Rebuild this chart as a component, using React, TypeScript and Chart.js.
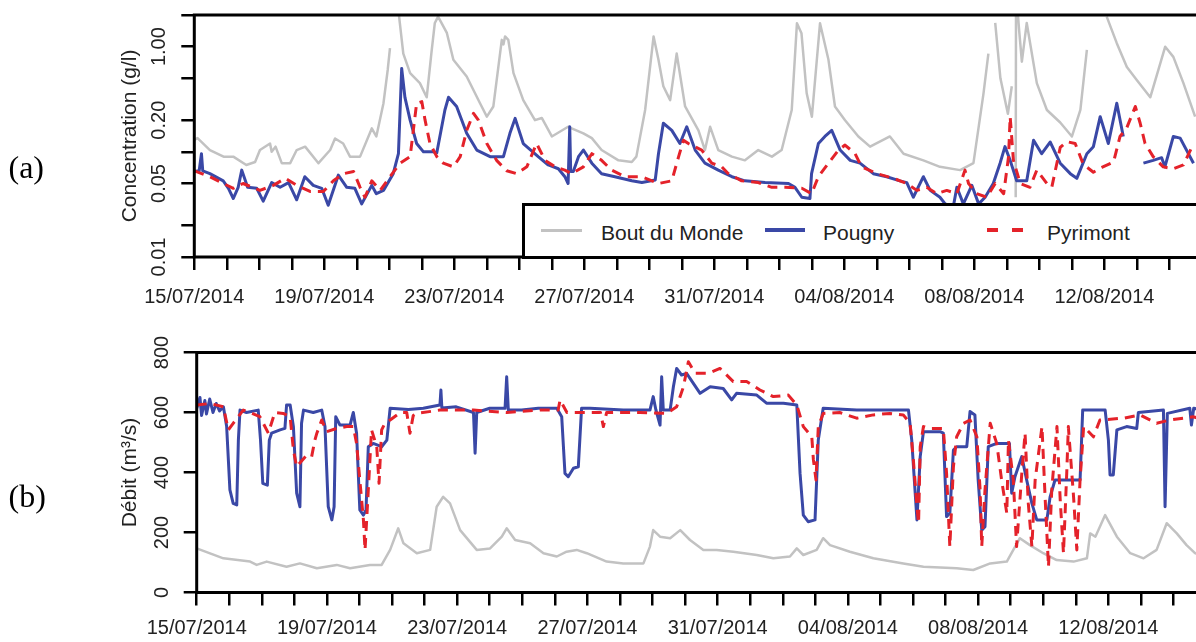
import React, { useEffect, useRef } from 'react';
import { Chart, registerables } from 'chart.js';

Chart.register(...registerables);

// ---------- Axis / tick data (days since 15/07/2014 00:00) ----------
const xTickDays: number[] = Array.from({ length: 33 }, (_, i) => i);
const xLabelDays = [0, 4, 8, 12, 16, 20, 24, 28];
const xLabelTexts = ['15/07/2014', '19/07/2014', '23/07/2014', '27/07/2014', '31/07/2014', '04/08/2014', '08/08/2014', '12/08/2014'];

const yTicksA = [0.01, 0.02, 0.05, 0.1, 0.2, 0.5, 1, 2];
const yLabelsA = ['0.01', '', '0.05', '', '0.20', '', '1.00', ''];
const yTicksB = [0, 200, 400, 600, 800];
const yLabelsB = ['0', '200', '400', '600', '800'];

const seriesNames = ['Bout du Monde', 'Pougny', 'Pyrimont'];

// ---------- Panel (a): concentration (g/l), [day, value] ----------
const concBoutDuMonde: [number, number | null][] = [
  [0, 0.13], [0.1, 0.135], [0.48, 0.104], [0.9, 0.09], [1.2, 0.09], [1.6, 0.075], [1.87, 0.08], [2.02, 0.104],
  [2.33, 0.12], [2.38, 0.1], [2.5, 0.112], [2.69, 0.078], [2.95, 0.078], [3.15, 0.104], [3.41, 0.112], [3.82, 0.078],
  [4.18, 0.104], [4.33, 0.134], [4.58, 0.12], [4.79, 0.09], [5.1, 0.09], [5.46, 0.167], [5.6, 0.14], [5.82, 0.29],
  [5.95, 0.6], [6.02, 0.97], [6.15, null], [6.28, 2.2], [6.43, 0.86], [6.64, 0.56], [6.94, 0.45], [7.15, 0.33],
  [7.3, 0.9], [7.4, 1.68], [7.5, 1.93], [7.77, 1.35], [7.97, 0.75], [8.38, 0.52], [8.79, 0.29], [9.0, 0.216],
  [9.2, 0.27], [9.46, 1.16], [9.51, 1.05], [9.56, 1.25], [9.66, 1.16], [9.82, 0.56], [10.12, 0.31], [10.48, 0.2],
  [10.69, 0.21], [11.0, 0.14], [11.5, 0.173], [11.97, 0.15], [12.23, 0.135], [12.53, 0.104], [13.05, 0.083],
  [13.46, 0.08], [13.6, 0.09], [13.87, 0.25], [14.13, 1.25], [14.28, 0.75], [14.43, 0.42], [14.64, 0.31],
  [14.84, 0.86], [15.1, 0.27], [15.51, 0.16], [15.71, 0.104], [15.87, 0.173], [16.12, 0.104], [16.54, 0.09],
  [16.94, 0.083], [17.35, 0.104], [17.77, 0.09], [18.07, 0.104], [18.38, 0.25], [18.54, 1.67], [18.68, 1.34],
  [18.84, 0.36], [19.0, 0.216], [19.25, 1.67], [19.51, 0.75], [19.71, 0.27], [20.02, 0.2], [20.43, 0.14],
  [20.79, 0.112], [21.4, 0.14], [21.82, 0.096], [22.43, 0.083], [22.94, 0.072], [23.56, 0.067], [23.97, 0.078],
  [24.28, 0.36], [24.43, 0.86], [24.52, null], [24.64, 1.68], [24.8, 0.5], [25.03, 0.23], [25.15, 0.42],
  [25.2, null], [25.27, 0.037], [25.28, 3.0], [25.33, 2.2], [25.37, 1.5], [25.46, 0.72], [25.61, 1.68],
  [25.92, 0.45], [26.23, 0.25], [26.64, 0.19], [27.0, 0.14], [27.26, 0.25], [27.46, 0.93], [27.6, null],
  [28.07, 1.93], [28.38, 1.08], [28.69, 0.64], [29.0, 0.48], [29.41, 0.33], [29.87, 1.0], [30.12, 0.8],
  [30.43, 0.45], [30.79, 0.216],
];

const concPougny: [number, number | null][] = [
  [0, 0.065], [0.15, 0.066], [0.22, 0.096], [0.26, 0.066], [0.48, 0.062], [0.89, 0.053], [1.05, 0.045], [1.2, 0.036],
  [1.35, 0.046], [1.46, 0.067], [1.64, 0.046], [1.92, 0.045], [2.12, 0.034], [2.38, 0.051], [2.64, 0.046],
  [2.9, 0.051], [3.15, 0.035], [3.4, 0.058], [3.66, 0.048], [3.92, 0.045], [4.12, 0.031], [4.43, 0.06],
  [4.69, 0.046], [4.94, 0.045], [5.15, 0.032], [5.46, 0.048], [5.6, 0.04], [5.82, 0.043], [6.12, 0.062],
  [6.28, 0.096], [6.38, 0.62], [6.48, 0.33], [6.64, 0.2], [6.84, 0.12], [7.05, 0.1], [7.35, 0.1], [7.46, 0.098],
  [7.71, 0.25], [7.82, 0.33], [8.07, 0.27], [8.38, 0.15], [8.69, 0.104], [9.1, 0.09], [9.51, 0.09], [9.71, 0.15],
  [9.87, 0.208], [10.12, 0.12], [10.58, 0.09], [10.89, 0.075], [11.2, 0.069], [11.4, 0.058], [11.5, 0.05],
  [11.55, 0.173], [11.58, 0.065], [11.66, 0.065], [11.82, 0.09], [11.97, 0.104], [12.23, 0.078], [12.53, 0.062],
  [12.94, 0.058], [13.46, 0.053], [13.77, 0.051], [14.18, 0.054], [14.28, 0.096], [14.43, 0.187], [14.69, 0.16],
  [14.94, 0.12], [15.15, 0.173], [15.41, 0.104], [15.71, 0.078], [16.12, 0.067], [16.54, 0.058], [16.94, 0.053],
  [17.56, 0.051], [18.28, 0.05], [18.48, 0.046], [18.69, 0.037], [18.94, 0.036], [18.99, 0.062], [19.2, 0.12],
  [19.4, 0.14], [19.61, 0.16], [19.87, 0.104], [20.18, 0.083], [20.48, 0.078], [20.89, 0.062], [21.3, 0.058],
  [21.71, 0.053], [21.92, 0.051], [22.12, 0.037], [22.43, 0.058], [22.64, 0.043], [22.94, 0.037], [23.1, 0.032],
  [23.35, 0.03], [23.46, 0.046], [23.66, 0.032], [23.92, 0.048], [24.13, 0.032], [24.33, 0.037], [24.58, 0.05],
  [24.79, 0.078], [24.94, 0.112], [25.1, 0.083], [25.3, 0.053], [25.61, 0.053], [25.82, 0.129], [26.07, 0.096],
  [26.33, 0.124], [26.64, 0.078], [26.95, 0.062], [27.15, 0.056], [27.46, 0.096], [27.66, 0.112], [27.87, 0.216],
  [28.12, 0.12], [28.38, 0.29], [28.58, 0.14], [28.7, null], [29.2, 0.078], [29.5, 0.083], [29.76, 0.088],
  [29.86, 0.072], [30.12, 0.14], [30.33, 0.135], [30.74, 0.078],
];

const concPyrimont: [number, number | null][] = [
  [0, 0.066], [0.48, 0.058], [0.89, 0.05], [1.2, 0.045], [1.5, 0.05], [2.02, 0.043], [2.43, 0.048], [2.8, 0.056],
  [3.15, 0.048], [3.56, 0.042], [3.97, 0.042], [4.28, 0.053], [4.59, 0.062], [4.9, 0.065], [5.1, 0.046],
  [5.25, 0.037], [5.46, 0.053], [5.72, 0.043], [6.02, 0.058], [6.33, 0.078], [6.64, 0.09], [6.84, 0.29], [7.0, 0.3],
  [7.1, 0.2], [7.25, 0.12], [7.46, 0.09], [7.66, 0.078], [7.97, 0.072], [8.18, 0.09], [8.38, 0.16], [8.59, 0.232],
  [8.74, 0.2], [9.0, 0.12], [9.3, 0.083], [9.61, 0.066], [9.92, 0.062], [10.23, 0.072], [10.53, 0.12],
  [10.79, 0.083], [11.1, 0.072], [11.4, 0.067], [11.61, 0.062], [11.97, 0.072], [12.23, 0.096], [12.53, 0.083],
  [12.84, 0.067], [13.25, 0.058], [13.77, 0.058], [14.28, 0.05], [14.69, 0.053], [14.9, 0.09], [15.05, 0.129],
  [15.2, 0.12], [15.61, 0.104], [15.92, 0.078], [16.23, 0.072], [16.43, 0.062], [16.84, 0.053], [17.35, 0.051],
  [17.77, 0.046], [18.18, 0.046], [18.69, 0.045], [18.99, 0.04], [19.2, 0.058], [19.51, 0.078], [19.82, 0.104],
  [20.02, 0.116], [20.33, 0.096], [20.53, 0.072], [21.0, 0.062], [21.51, 0.056], [21.92, 0.05], [22.23, 0.043],
  [22.53, 0.046], [22.84, 0.04], [23.15, 0.043], [23.46, 0.04], [23.71, 0.067], [23.82, 0.05], [24.07, 0.04],
  [24.38, 0.037], [24.64, 0.05], [24.9, 0.04], [25.05, 0.09], [25.1, 0.216], [25.2, 0.083], [25.41, 0.05],
  [25.71, 0.046], [25.92, 0.067], [26.23, 0.05], [26.38, 0.046], [26.64, 0.11], [26.84, 0.125], [27.1, 0.12],
  [27.35, 0.076], [27.66, 0.064], [27.92, 0.071], [28.28, 0.08], [28.48, 0.14], [28.69, 0.17], [28.95, 0.27],
  [29.1, 0.187], [29.25, 0.12], [29.5, 0.09], [29.81, 0.072], [30.12, 0.069], [30.43, 0.075], [30.74, 0.12],
];

// ---------- Panel (b): discharge (m3/s), [day, value] ----------
const flowBoutDuMonde: [number, number | null][] = [
  [0, 147], [0.82, 114], [1.64, 103], [1.84, 92], [2.15, 103], [2.76, 86], [3.17, 97], [3.69, 81], [4.3, 92],
  [4.71, 81], [5.32, 92], [5.68, 92], [5.94, 142], [6.19, 214], [6.35, 164], [6.76, 131], [7.17, 142], [7.37, 286],
  [7.57, 319], [7.78, 297], [8.09, 208], [8.6, 142], [9.01, 147], [9.37, 186], [9.52, 214], [9.78, 175],
  [10.24, 164], [10.65, 131], [11.06, 120], [11.36, 136], [11.67, 142], [11.98, 131], [12.59, 103], [13.1, 97],
  [13.72, 97], [13.92, 153], [14.02, 208], [14.23, 186], [14.54, 181], [14.85, 208], [15.15, 175], [15.56, 142],
  [15.97, 142], [16.48, 136], [17.2, 125], [17.71, 114], [18.22, 120], [18.43, 147], [18.63, 125], [19.04, 142],
  [19.24, 181], [19.45, 158], [20.06, 136], [20.78, 114], [21.7, 97], [22.32, 86], [23.34, 81], [23.85, 75],
  [24.37, 97], [24.88, 103], [25.28, 181], [25.59, 158], [26.0, 131], [26.41, 108], [26.93, 103], [27.34, 114],
  [27.44, 197], [27.6, 186], [27.9, 258], [28.26, 186], [28.67, 131], [29.08, 114], [29.48, 142], [29.79, 231],
  [30.1, 197], [30.4, 158], [30.66, 131], [30.8, 125],
];

const flowPougny: [number, number | null][] = [
  [0, 614], [0.1, 650], [0.15, 590], [0.25, 640], [0.3, 595], [0.4, 645], [0.5, 600], [0.6, 630], [0.7, 605],
  [0.82, 619], [0.92, 553], [1.02, 342], [1.12, 297], [1.23, 292], [1.28, 508], [1.33, 608], [1.53, 600],
  [1.89, 608], [1.96, 508], [2.03, 364], [2.17, 358], [2.23, 508], [2.3, 531], [2.56, 542], [2.71, 547],
  [2.76, 625], [2.87, 625], [2.97, 553], [3.07, 331], [3.17, 286], [3.22, 564], [3.28, 608], [3.58, 600],
  [3.84, 608], [3.94, 553], [4.04, 286], [4.15, 242], [4.22, 286], [4.27, 586], [4.4, 558], [4.71, 558],
  [4.81, 600], [4.91, 531], [5.01, 275], [5.12, 258], [5.2, 275], [5.27, 486], [5.42, 497], [5.68, 486],
  [5.84, 508], [5.94, 614], [6.5, 610], [6.96, 614], [7.47, 625], [7.5, 675], [7.53, 615], [7.97, 619],
  [8.5, 600], [8.55, 464], [8.6, 600], [9.0, 614], [9.47, 614], [9.52, 719], [9.57, 608], [9.98, 608],
  [10.49, 614], [11.06, 614], [11.21, 586], [11.31, 397], [11.41, 386], [11.57, 414], [11.72, 419], [11.82, 614],
  [12.08, 614], [13.1, 608], [13.92, 608], [14.02, 653], [14.1, 610], [14.23, 558], [14.28, 719], [14.33, 608],
  [14.54, 608], [14.64, 686], [14.74, 747], [14.89, 725], [15.05, 730], [15.15, 714], [15.46, 664], [15.77, 686],
  [16.17, 680], [16.43, 642], [16.58, 664], [17.2, 658], [17.5, 631], [18.02, 631], [18.43, 625], [18.53, 397],
  [18.63, 258], [18.78, 236], [18.99, 242], [19.09, 508], [19.24, 614], [20.27, 608], [21.29, 608], [21.86, 608],
  [21.96, 508], [22.12, 242], [22.22, 453], [22.32, 536], [22.83, 536], [22.93, 531], [23.03, 253], [23.13, 264],
  [23.24, 475], [23.34, 486], [23.65, 486], [23.75, 603], [23.9, 592], [24.0, 375], [24.11, 208], [24.21, 219],
  [24.31, 486], [24.57, 497], [24.96, 497], [25.03, 331], [25.13, 386], [25.34, 453], [25.49, 375], [25.65, 297],
  [25.8, 242], [26.11, 242], [26.21, 319], [26.36, 375], [27.13, 375], [27.21, 608], [27.9, 608], [28.0, 508],
  [28.05, 392], [28.15, 392], [28.26, 542], [28.56, 553], [28.87, 547], [28.92, 600], [29.69, 608], [29.74, 286],
  [29.81, 597], [30.5, 614], [30.55, 558], [30.62, 614], [30.8, 610],
];

const flowPyrimont: [number, number | null][] = [
  [0, 625], [0.41, 630], [0.82, 619], [0.97, 542], [1.12, 564], [1.43, 608], [1.64, 600], [1.94, 586], [2.2, 531],
  [2.4, 600], [2.66, 597], [2.87, 586], [2.97, 475], [3.07, 419], [3.38, 458], [3.53, 453], [3.63, 508],
  [3.69, 531], [3.84, 575], [3.99, 536], [4.3, 547], [4.61, 553], [4.81, 553], [4.91, 497], [5.01, 375],
  [5.12, 242], [5.17, 142], [5.27, 342], [5.37, 542], [5.53, 486], [5.6, 364], [5.68, 542], [5.78, 564],
  [5.94, 575], [6.25, 600], [6.45, 600], [6.55, 531], [6.65, 590], [6.76, 597], [7.47, 608], [8.5, 608],
  [9.52, 600], [10.54, 608], [11.1, 608], [11.16, 642], [11.37, 600], [12.4, 600], [12.49, 553], [12.59, 600],
  [13.61, 600], [14.43, 597], [14.74, 619], [14.95, 686], [15.1, 769], [15.31, 731], [15.72, 731], [16.07, 747],
  [16.48, 703], [16.89, 703], [17.3, 675], [17.71, 653], [18.17, 658], [18.43, 625], [18.63, 553], [18.89, 519],
  [18.94, 442], [19.02, 375], [19.09, 553], [19.24, 597], [19.75, 600], [20.27, 581], [20.78, 592], [21.29, 597],
  [21.7, 592], [21.91, 564], [22.01, 442], [22.12, 286], [22.17, 231], [22.22, 486], [22.32, 553], [22.52, 547],
  [22.93, 547], [23.03, 397], [23.13, 153], [23.24, 419], [23.34, 519], [23.55, 564], [23.75, 575], [23.96, 519],
  [24.06, 342], [24.11, 153], [24.21, 342], [24.37, 564], [24.57, 497], [24.72, 375], [24.88, 264], [24.93, 508],
  [25.08, 375], [25.18, 153], [25.34, 397], [25.44, 531], [25.54, 297], [25.65, 153], [25.75, 375], [25.96, 553],
  [26.06, 308], [26.16, 86], [26.26, 342], [26.42, 553], [26.52, 308], [26.62, 131], [26.72, 397], [26.77, 553],
  [26.93, 319], [27.03, 142], [27.13, 375], [27.24, 553], [27.54, 519], [27.74, 575], [28.46, 581], [28.97, 592],
  [29.48, 564], [29.89, 575], [30.3, 581], [30.6, 586], [30.8, 580],
];

// ---------- Styling ----------
const GRAY = '#c2c2c2';
const BLUE = '#3a48a6';
const RED = '#e4222a';
const TEXT = '#222222';
const SANS = '"Liberation Sans", Arial, Helvetica, sans-serif';
const SERIF = '"Liberation Serif", "Times New Roman", serif';

const toPoints = (arr: [number, number | null][]) => arr.map(([x, y]) => ({ x, y }));

const xLabel = (v: number) => {
  const i = xLabelDays.findIndex((d) => Math.abs(d - v) < 1e-6);
  return i >= 0 ? xLabelTexts[i] : '';
};

const framePlugin = {
  id: 'frame',
  afterDatasetsDraw(chart: any) {
    const { ctx, chartArea: a } = chart;
    ctx.save();
    ctx.strokeStyle = '#000';
    ctx.lineWidth = 3;
    ctx.strokeRect(a.left, a.top, a.right - a.left, a.bottom - a.top);
    ctx.restore();
  },
  afterDraw(chart: any, _args: any, opts: any) {
    if (!opts || !opts.values) return;
    const { ctx, chartArea: a } = chart;
    const ys = chart.scales.y;
    ctx.save();
    ctx.fillStyle = TEXT;
    ctx.font = `20px ${SANS}`;
    ctx.textAlign = 'center';
    ctx.textBaseline = 'alphabetic';
    opts.values.forEach((v: number, i: number) => {
      const lab = opts.labels[i];
      if (!lab) return;
      const y = ys.getPixelForValue(v);
      ctx.save();
      ctx.translate(a.left - 29, y);
      ctx.rotate(-Math.PI / 2);
      ctx.fillText(lab, 0, 0);
      ctx.restore();
    });
    ctx.restore();
  },
};

function makeConfig(p: {
  gray: any[]; blue: any[]; red: any[];
  yType: 'logarithmic' | 'linear'; yMin: number; yMax: number; yTicks: number[]; yLabels: string[];
  yTitle: string; padTop: number; yWidth: number; xMax: number; xHeight: number; xPad: number;
}) {
  return {
    type: 'line',
    data: {
      datasets: [
        { label: seriesNames[2], data: p.red, borderColor: RED, borderWidth: 3, borderDash: [10, 7], order: 0 },
        { label: seriesNames[1], data: p.blue, borderColor: BLUE, borderWidth: 3, order: 1 },
        { label: seriesNames[0], data: p.gray, borderColor: GRAY, borderWidth: 2.5, order: 2 },
      ],
    },
    options: {
      animation: false,
      responsive: false,
      maintainAspectRatio: false,
      devicePixelRatio: 1,
      spanGaps: false,
      layout: { padding: { left: 100, top: p.padTop, right: 4, bottom: 0 } },
      elements: {
        point: { radius: 0, hoverRadius: 0 },
        line: { tension: 0, fill: false, borderJoinStyle: 'round' },
      },
      plugins: {
        legend: { display: false },
        tooltip: { enabled: false },
        frame: { values: p.yTicks, labels: p.yLabels },
      },
      scales: {
        x: {
          type: 'linear',
          min: 0,
          max: p.xMax,
          afterBuildTicks: (s: any) => { s.ticks = xTickDays.map((v) => ({ value: v })); },
          afterFit: (s: any) => { s.height = p.xHeight; },
          ticks: {
            autoSkip: false, maxRotation: 0, minRotation: 0, padding: p.xPad, color: TEXT,
            font: { family: SANS, size: 20 },
            callback: (v: any) => xLabel(Number(v)),
          },
          grid: { display: true, drawOnChartArea: false, drawTicks: true, tickLength: 13, lineWidth: 2.5, color: '#000' },
          border: { display: false },
        },
        y: {
          type: p.yType,
          min: p.yMin,
          max: p.yMax,
          afterBuildTicks: (s: any) => { s.ticks = p.yTicks.map((v) => ({ value: v })); },
          afterFit: (s: any) => { s.width = p.yWidth; },
          ticks: { display: false },
          grid: { display: true, drawOnChartArea: false, drawTicks: true, tickLength: 13, lineWidth: 2.5, color: '#000' },
          border: { display: false },
          title: {
            display: true, text: p.yTitle, color: TEXT,
            font: { family: SANS, size: 21 },
            padding: { top: 18, bottom: 0 },
          },
        },
      },
    },
    plugins: [framePlugin],
  };
}

export default function App() {
  const refA = useRef<HTMLCanvasElement>(null);
  const refB = useRef<HTMLCanvasElement>(null);

  useEffect(() => {
    const chartA = new Chart(refA.current as HTMLCanvasElement, makeConfig({
      gray: toPoints(concBoutDuMonde), blue: toPoints(concPougny), red: toPoints(concPyrimont),
      yType: 'logarithmic', yMin: 0.01, yMax: 2, yTicks: yTicksA, yLabels: yLabelsA,
      yTitle: 'Concentration (g/l)', padTop: 15, yWidth: 94.3, xMax: 32.54, xHeight: 63, xPad: 15,
    }) as any);
    const chartB = new Chart(refB.current as HTMLCanvasElement, makeConfig({
      gray: toPoints(flowBoutDuMonde), blue: toPoints(flowPougny), red: toPoints(flowPyrimont),
      yType: 'linear', yMin: 0, yMax: 800, yTicks: yTicksB, yLabels: yLabelsB,
      yTitle: 'Débit (m³/s)', padTop: 22.5, yWidth: 96.7, xMax: 32.41, xHeight: 49.5, xPad: 11,
    }) as any);
    return () => { chartA.destroy(); chartB.destroy(); };
  }, []);

  const legText: React.CSSProperties = {
    position: 'absolute', top: 16, fontFamily: SANS, fontSize: 21, lineHeight: '21px', color: TEXT, whiteSpace: 'nowrap',
  };
  const panelLabel: React.CSSProperties = {
    position: 'absolute', left: 8.5, fontFamily: SERIF, fontSize: 32, lineHeight: '32px', color: '#000',
  };

  return (
    <div style={{ position: 'fixed', left: 0, top: 0, width: 1196, height: 642, overflow: 'hidden', background: '#fff' }}>
      <canvas ref={refA} width={1256} height={320} style={{ position: 'absolute', left: 0, top: 0 }} />
      <canvas ref={refB} width={1256} height={312} style={{ position: 'absolute', left: 0, top: 330 }} />
      <div style={{ ...panelLabel, top: 151 }}>(a)</div>
      <div style={{ ...panelLabel, top: 480 }}>(b)</div>
      <div style={{
        position: 'absolute', left: 521.5, top: 202.5, width: 720, height: 56, boxSizing: 'border-box',
        border: '3px solid #000', borderRight: 'none', background: '#fff',
      }}>
        <div style={{ position: 'absolute', left: 16.5, top: 23, width: 41, height: 3, background: GRAY }} />
        <span style={{ ...legText, left: 76.5 }}>{seriesNames[0]}</span>
        <div style={{ position: 'absolute', left: 240.5, top: 22.5, width: 40, height: 4, background: BLUE }} />
        <span style={{ ...legText, left: 298.5 }}>{seriesNames[1]}</span>
        <div style={{ position: 'absolute', left: 462.5, top: 22.5, width: 11, height: 4, background: RED }} />
        <div style={{ position: 'absolute', left: 487.5, top: 22.5, width: 11, height: 4, background: RED }} />
        <span style={{ ...legText, left: 522.5 }}>{seriesNames[2]}</span>
      </div>
    </div>
  );
}
